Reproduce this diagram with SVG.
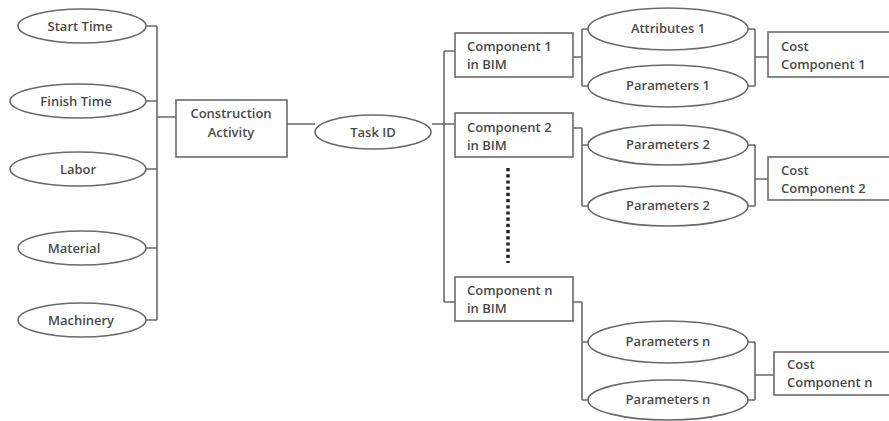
<svg xmlns="http://www.w3.org/2000/svg" width="889" height="421" viewBox="0 0 889 421">
<style>
.n{fill:#fff;stroke:#6a6a6a;stroke-width:1.6}
.t{font-family:"Open Sans","Liberation Sans",sans-serif;font-size:13px;font-weight:600;fill:#4a4a4a}
.c{text-anchor:middle}
#connectors path{fill:none;stroke:#6a6a6a;stroke-width:1.6}
</style>
<rect width="889" height="421" fill="#fff"/>
<g id="connectors">
<path d="M146,26H157M146,101H157M146,169H157M146,248H157M146,320H157M157,26V320M157,117H176"/>
<path d="M287,124H315M432,124H444M444,51V302M444,51H455M444,124H455M444,302H455"/>
<path d="M573,57H582M582,29V86M582,29H588M582,86H588M748,29H755M748,86H755M755,29V86M755,57H768"/>
<path d="M573,128H582M582,128V206M582,145H588M582,206H588M748,145H755M748,206H755M755,145V206M755,179H768"/>
<path d="M573,302H582M582,302V400M582,342H588M582,400H588M748,342H755M748,400H755M755,342V400M755,375H774"/>
<path d="M508,168V263" style="stroke:#222;stroke-width:3.5;stroke-dasharray:3.2 3"/>
</g>
<g id="start-time"><ellipse class="n" cx="82" cy="26" rx="64" ry="17"/><text class="t c" x="80" y="31">Start Time</text></g>
<g id="finish-time"><ellipse class="n" cx="78" cy="101" rx="68" ry="17"/><text class="t c" x="76" y="106">Finish Time</text></g>
<g id="labor"><ellipse class="n" cx="78" cy="169" rx="68" ry="17"/><text class="t c" x="78" y="174">Labor</text></g>
<g id="material"><ellipse class="n" cx="82" cy="248" rx="64" ry="17"/><text class="t c" x="74" y="253">Material</text></g>
<g id="machinery"><ellipse class="n" cx="82" cy="320" rx="64" ry="17"/><text class="t c" x="81" y="325">Machinery</text></g>
<g id="construction-activity"><rect class="n" x="176" y="100" width="111" height="57"/><text class="t c" x="231" y="118">Construction</text><text class="t c" x="231" y="137">Activity</text></g>
<g id="task-id"><ellipse class="n" cx="373" cy="132" rx="58" ry="17"/><text class="t c" x="373" y="137">Task ID</text></g>
<g id="component-1"><rect class="n" x="455" y="33" width="118" height="44"/><text class="t" x="467" y="51">Component 1</text><text class="t" x="467" y="69">in BIM</text></g>
<g id="component-2"><rect class="n" x="455" y="113" width="118" height="44"/><text class="t" x="467" y="132">Component 2</text><text class="t" x="467" y="150">in BIM</text></g>
<g id="component-n"><rect class="n" x="455" y="277" width="118" height="44"/><text class="t" x="467" y="295">Component n</text><text class="t" x="467" y="313">in BIM</text></g>
<g id="attributes-1"><ellipse class="n" cx="668" cy="29" rx="80" ry="21"/><text class="t c" x="668" y="33">Attributes 1</text></g>
<g id="parameters-1"><ellipse class="n" cx="668" cy="86" rx="80" ry="21"/><text class="t c" x="668" y="90">Parameters 1</text></g>
<g id="parameters-2a"><ellipse class="n" cx="668" cy="145" rx="80" ry="20"/><text class="t c" x="668" y="149">Parameters 2</text></g>
<g id="parameters-2b"><ellipse class="n" cx="668" cy="206" rx="80" ry="20"/><text class="t c" x="668" y="210">Parameters 2</text></g>
<g id="parameters-na"><ellipse class="n" cx="668" cy="342" rx="80" ry="21"/><text class="t c" x="668" y="346">Parameters n</text></g>
<g id="parameters-nb"><ellipse class="n" cx="668" cy="400" rx="80" ry="20"/><text class="t c" x="668" y="404">Parameters n</text></g>
<g id="cost-component-1"><rect class="n" x="768" y="32" width="130" height="45"/><text class="t" x="781" y="51">Cost</text><text class="t" x="781" y="69">Component 1</text></g>
<g id="cost-component-2"><rect class="n" x="768" y="157" width="130" height="43"/><text class="t" x="781" y="175">Cost</text><text class="t" x="781" y="193">Component 2</text></g>
<g id="cost-component-n"><rect class="n" x="774" y="352" width="130" height="43"/><text class="t" x="787" y="369">Cost</text><text class="t" x="787" y="387">Component n</text></g>
</svg>
